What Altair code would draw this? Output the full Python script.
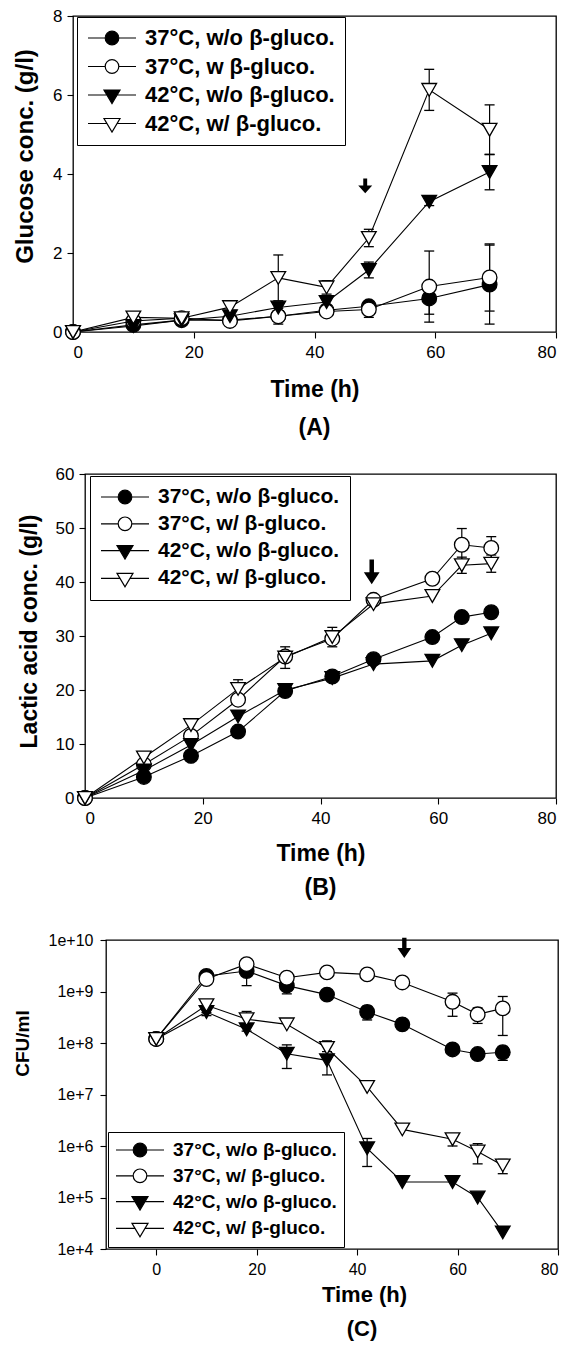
import altair as alt
import pandas as pd

FONT = "Liberation Sans"

# ---------------- data ----------------
labels_a = ["37°C, w/o β-gluco.", "37°C, w β-gluco.", "42°C, w/o β-gluco.", "42°C, w/ β-gluco."]
labels_bc = ["37°C, w/o β-gluco.", "37°C, w/ β-gluco.", "42°C, w/o β-gluco.", "42°C, w/ β-gluco."]

# Panel A: glucose (g/l)
time_a = [0, 10, 18, 26, 34, 42, 49, 59, 69]
a_37_wo = [0, 0.18, 0.30, 0.30, 0.40, 0.55, 0.65, 0.85, 1.20]
a_37_w = [0, 0.28, 0.35, 0.28, 0.40, 0.52, 0.57, 1.15, 1.38]
a_42_wo = [0, 0.15, 0.30, 0.40, 0.62, 0.76, 1.57, 3.30, 4.05]
a_42_w = [0, 0.37, 0.35, 0.63, 1.37, 1.13, 2.38, 6.13, 5.12]
a_37_wo_err = [0, 0, 0, 0, 0, 0, 0, 0.40, 1.00]
a_37_w_err = [0, 0, 0, 0, 0.20, 0, 0.20, 0.90, 0.85]
a_42_wo_err = [0, 0, 0, 0, 0, 0, 0.20, 0.10, 0.45]
a_42_w_err = [0, 0, 0, 0, 0.58, 0.17, 0.22, 0.52, 0.63]
arrow_a_x = [48.4]
arrow_a_y = [3.71]

# Panel B: lactic acid (g/l)
time_b = [0, 10, 18, 26, 34, 42, 49, 59, 64, 69]
b_37_wo = [0, 3.9, 7.8, 12.3, 19.8, 22.5, 25.7, 29.8, 33.5, 34.4]
b_37_w = [0, 6.2, 11.5, 18.2, 26.2, 29.5, 36.7, 40.6, 46.9, 46.3]
b_42_wo = [0, 5.1, 9.8, 15.1, 20.0, 22.2, 24.8, 25.4, 28.3, 30.5]
b_42_w = [0, 7.5, 13.5, 20.2, 26.0, 29.8, 35.9, 37.4, 43.1, 43.4]
b_37_wo_err = [0, 0, 0, 0, 0, 0, 0, 0, 0, 0]
b_37_w_err = [0, 0, 0, 0, 0, 0, 0, 0, 3.0, 2.1]
b_42_wo_err = [0, 0, 0, 0, 0, 0, 0, 0, 0, 0]
b_42_w_err = [0, 0, 0, 1.7, 2.0, 1.8, 0, 0, 1.5, 1.6]
arrow_b_x = [48.7]
arrow_b_y = [41.8]

# Panel C: CFU/ml
time_c = [0, 10, 18, 26, 34, 42, 49, 59, 64, 69]
c_37_wo = [1.2e8, 2.0e9, 2.5e9, 1.3e9, 8.7e8, 4.0e8, 2.3e8, 7.5e7, 6.1e7, 6.6e7]
c_37_w = [1.2e8, 1.75e9, 3.4e9, 1.85e9, 2.35e9, 2.15e9, 1.5e9, 6.3e8, 3.6e8, 4.7e8]
c_42_wo = [1.2e8, 4.0e8, 1.85e8, 6.2e7, 4.6e7, 9.0e5, 2.0e5, 2.0e5, 1.0e5, 2.1e4]
c_42_w = [1.2e8, 5.4e8, 2.9e8, 2.3e8, 8.0e7, 1.4e7, 2.1e6, 1.35e6, 7.8e5, 4.2e5]
c_37_wo_err = [0, 0, 1.2e9, 4.0e8, 0, 1.2e8, 0, 0, 0, 2.0e7]
c_37_w_err = [0, 0, 0, 0, 0, 0, 0, 3.0e8, 1.2e8, 3.3e8]
c_42_wo_err = [0, 6.0e7, 0, 3.0e7, 2.2e7, 5.0e5, 0, 0, 0, 0]
c_42_w_err = [0, 1.5e8, 1.2e8, 0, 3.0e7, 0, 0, 3.5e5, 3.3e5, 1.3e5]
arrow_c_x = [49.4]
arrow_c_y = [7.0e9]

x_ticks = [0, 20, 40, 60, 80]

# ---------------- styles ----------------
FILLS = ["black", "white", "black", "white"]
SHAPES = ["circle", "circle", "triangle-down", "triangle-down"]
LEG_CIRCLE = ("M-2,0 L-0.28,0 M1.08,0 L2.8,0 "
              "M1.08,0 A0.68,0.68 0 1 1 -0.28,0 A0.68,0.68 0 1 1 1.08,0 Z")
LEG_TRI = "M-2,0 L-0.1,0 M0.9,0 L2.8,0 M-0.4,-0.5 L1.2,-0.5 L0.4,0.85 Z"
LEG_SHAPES = [LEG_CIRCLE, LEG_CIRCLE, LEG_TRI, LEG_TRI]


def arrow_path(stem, head, hw, sw):
    return (f"M{-sw},{-stem} L{sw},{-stem} L{sw},0 L{hw},0 L0,{head} "
            f"L{-hw},0 L{-sw},0 Z")


def make_panel(times, vals, errs, labels, cfg):
    rows = []
    for k in range(4):
        for t, v, e in zip(times, vals[k], errs[k]):
            rows.append({"t": t, "v": v, "e": e, "lo": v - e, "hi": v + e,
                         "s": labels[k], "k": k})
    df = pd.DataFrame(rows)
    edf = df[df["e"] > 0]

    xs = alt.Scale(domain=cfg["xdom"], nice=False, zero=False)
    if cfg.get("log"):
        ys = alt.Scale(type="log", domain=cfg["ydom"], nice=False)
    else:
        ys = alt.Scale(domain=cfg["ydom"], nice=False)

    xax_kw = dict(values=x_ticks, title="Time (h)", labelFontSize=cfg["lab"],
                  titleFontSize=cfg["xtitle"], titlePadding=cfg["xtpad"],
                  labelPadding=cfg["xlpad"], tickSize=6)
    if "titleX" in cfg:
        xax_kw["titleX"] = cfg["titleX"]
    xax = alt.Axis(**xax_kw)
    yax_kw = dict(values=cfg["yticks"], title=cfg["ytitle"], labelFontSize=cfg["ylab"],
                  titleFontSize=cfg["ytitlesize"], titlePadding=cfg["ytpad"],
                  labelPadding=cfg["ylpad"], tickSize=6, titleY=cfg["titleY"])
    if cfg.get("log"):
        yax_kw["labelExpr"] = "'1e+' + round(log(datum.value) / LN10)"
    yax = alt.Axis(**yax_kw)

    def X(f):
        return alt.X(f"{f}:Q", scale=xs, axis=xax, title="Time (h)")

    def Y(f):
        return alt.Y(f"{f}:Q", scale=ys, axis=yax, title=cfg["ytitle"])

    # white 1px rule that fixes how far the panel reaches to the left / top
    spacer = alt.Chart(pd.DataFrame({"a": [0]})).mark_rule(color="white", strokeWidth=1).encode(
        x=alt.value(-cfg["left"]), x2=alt.value(-cfg["left"] + 1), y=alt.value(-cfg.get("top", 0)))

    lines = alt.Chart(df).mark_line(color="black", strokeWidth=1.1).encode(
        x=X("t"), y=Y("v"), detail="s:N")

    bars = alt.Chart(edf).mark_rule(color="black", strokeWidth=1.2).encode(
        x=X("t"), y=Y("lo"), y2=alt.Y2("hi:Q"))

    caps = alt.Chart(edf).transform_fold(["lo", "hi"], as_=["end", "yv"]).mark_tick(
        orient="horizontal", size=10, thickness=1.3, color="black", opacity=1).encode(
        x=X("t"), y=Y("yv"))

    pts = alt.Chart(df).mark_point(opacity=1, stroke="black", strokeWidth=1.3).encode(
        x=X("t"), y=Y("v"),
        shape=alt.Shape("s:N", scale=alt.Scale(domain=labels, range=SHAPES), legend=None),
        fill=alt.Fill("s:N", scale=alt.Scale(domain=labels, range=FILLS), legend=None),
        size=alt.Size("k:O", scale=alt.Scale(domain=[0, 1, 2, 3], range=cfg["sizes"]), legend=None),
    )

    arrow = alt.Chart(pd.DataFrame({"t": cfg["ax"], "v": cfg["ay"]})).mark_point(
        shape=cfg["arrow"], size=cfg["arrow_size"], filled=True, color="black",
        opacity=1, strokeWidth=0).encode(x=X("t"), y=Y("v"))

    leg = alt.Legend(title=None, orient="none", legendX=cfg["lx"], legendY=cfg["ly"],
                     symbolSize=400, symbolStrokeWidth=1.2, symbolOffset=10,
                     symbolOpacity=1, labelFont=FONT, labelFontSize=cfg["leglab"],
                     labelFontWeight="bold", labelColor="black", labelOffset=26,
                     labelLimit=500, padding=cfg["lpad"], rowPadding=cfg["rowpad"],
                     strokeColor="black", fillColor="white", cornerRadius=0)
    leg_df = pd.DataFrame({"s": labels, "t": [times[0]] * 4,
                           "v": [vals[k][0] for k in range(4)]})
    leg_layer = alt.Chart(leg_df).mark_point(opacity=0, strokeWidth=1.2).encode(
        x=X("t"), y=Y("v"),
        shape=alt.Shape("s:N", scale=alt.Scale(domain=labels, range=LEG_SHAPES), legend=leg),
        fill=alt.Fill("s:N", scale=alt.Scale(domain=labels, range=FILLS), legend=leg),
        stroke=alt.Stroke("s:N", scale=alt.Scale(domain=labels, range=["black"] * 4), legend=leg),
    )

    title = alt.TitleParams(text=cfg["letter"], orient="bottom", anchor="middle", frame="group",
                            font=FONT, fontSize=cfg["letsize"], fontWeight="bold",
                            color="black", offset=cfg["letoff"], dx=cfg.get("letdx", 0))

    panel = alt.layer(spacer, lines, bars, caps, pts, arrow, leg_layer).resolve_scale(
        shape="independent", fill="independent", stroke="independent").properties(
        width=cfg["w"], height=cfg["h"], title=title)

    # 1px invisible chart on the left so that each panel keeps its own left offset
    pad = alt.Chart(pd.DataFrame({"a": [0]})).mark_rule(color="white").encode(
        x=alt.value(0), y=alt.value(0), y2=alt.value(1)).properties(
        width=1, height=1, view=alt.ViewBackground(stroke="transparent"))
    return alt.hconcat(pad, panel, spacing=0)


row_a = make_panel(
    time_a, [a_37_wo, a_37_w, a_42_wo, a_42_w],
    [a_37_wo_err, a_37_w_err, a_42_wo_err, a_42_w_err], labels_a,
    dict(w=483, h=316, xdom=[0, 80], ydom=[0, 8], yticks=[0, 2, 4, 6, 8],
         ytitle="Glucose conc. (g/l)", lab=17, ylab=17, xtitle=23, ytitlesize=24,
         xtpad=18, xlpad=6, ytpad=15, ylpad=5, left=58, titleY=140, sizes=[215, 215, 260, 260],
         ax=arrow_a_x, ay=arrow_a_y, arrow=arrow_path(1.0, 1.1, 1.0, 0.28), arrow_size=196,
         lx=4, ly=1, leglab=22, lpad=10, rowpad=6.5, letter="(A)", letsize=23, letoff=16))

row_b = make_panel(
    time_b, [b_37_wo, b_37_w, b_42_wo, b_42_w],
    [b_37_wo_err, b_37_w_err, b_42_wo_err, b_42_w_err], labels_bc,
    dict(w=471, h=324, xdom=[0, 80], ydom=[0, 60], yticks=[0, 10, 20, 30, 40, 50, 60],
         ytitle="Lactic acid conc. (g/l)", lab=17, ylab=17, xtitle=23, ytitlesize=23,
         xtpad=16, xlpad=6, ytpad=14, ylpad=5, left=71, titleY=157, sizes=[215, 215, 260, 260],
         ax=arrow_b_x, ay=arrow_b_y, arrow=arrow_path(1.7, 1.6, 1.05, 0.3), arrow_size=225,
         lx=5, ly=2, leglab=21, lpad=10, rowpad=5.8, letter="(B)", letsize=23, letoff=12))

row_c = make_panel(
    time_c, [c_37_wo, c_37_w, c_42_wo, c_42_w],
    [c_37_wo_err, c_37_w_err, c_42_wo_err, c_42_w_err], labels_bc,
    dict(w=452, h=309, xdom=[-10, 80], ydom=[1e4, 1e10], log=True,
         yticks=[1e4, 1e5, 1e6, 1e7, 1e8, 1e9, 1e10],
         ytitle="CFU/ml", lab=16, ylab=16, xtitle=22, ytitlesize=19,
         xtpad=7, xlpad=6, ytpad=16, ylpad=7, left=92, top=14, titleX=258, titleY=103,
         sizes=[200, 200, 250, 250],
         ax=arrow_c_x, ay=arrow_c_y, arrow=arrow_path(1.4, 1.4, 0.95, 0.3), arrow_size=210,
         lx=2, ly=192, leglab=19, lpad=7, rowpad=4.8, letter="(C)", letsize=22, letoff=14,
         letdx=30))

chart = alt.vconcat(row_a, row_b, row_c, spacing=23).properties(
    padding={"left": 0, "right": 0, "top": -2, "bottom": 0}
).configure(font=FONT).configure_view(
    stroke="black", strokeWidth=1.3
).configure_axis(
    labelFont=FONT, labelColor="black", titleFont=FONT, titleFontWeight="bold",
    titleColor="black", tickColor="black", tickWidth=1.1, domain=False, grid=False
)

chart.save("out.html", embed_options={"renderer": "svg", "actions": False})
